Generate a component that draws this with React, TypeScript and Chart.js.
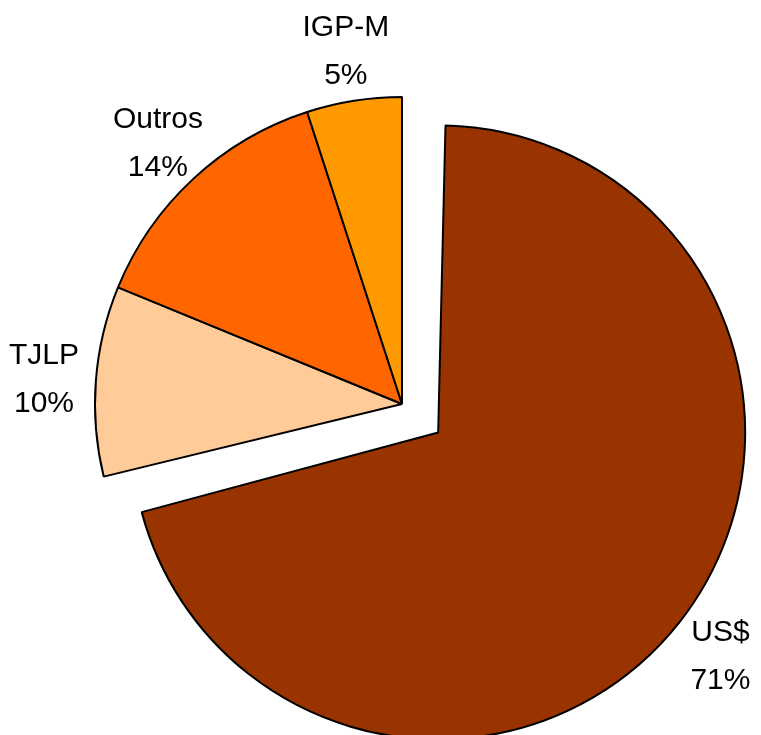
import React, { useEffect, useRef } from "react";
import { Chart, registerables } from "chart.js";

Chart.register(...registerables);

// ---- data ----
const categories = ["US$", "TJLP", "Outros", "IGP-M"];
const shares = [71.2, 10.0, 13.8, 5.0];
const percentLabels = ["71%", "10%", "14%", "5%"];
const sliceColors = ["#993300", "#FFCC99", "#FF6600", "#FF9900"];
// Chart.js translates an arc by offset/4
const sliceOffsets = [184, 0, 0, 0];

function radiusFix(arc: any) {
  // Chart.js enlarges an offset arc's radius by (offset/4) * (1 - sin(min(PI, circumference)))
  const off = (arc.options?.offset || 0) / 4;
  const circ = arc.circumference || 0;
  return off * (1 - Math.sin(Math.min(Math.PI, circ)));
}

const keepRadiusPlugin = {
  id: "keepRadius",
  beforeDatasetDraw(chart: any, args: any) {
    const meta = chart.getDatasetMeta(args.index);
    meta.data.forEach((arc: any) => {
      const fix = radiusFix(arc);
      if (fix && !arc.$fixed) {
        arc.outerRadius = arc.outerRadius - fix;
        arc.$fixed = true;
      }
    });
  },
};

const outerLabelPlugin = {
  id: "outerLabels",
  afterDatasetsDraw(chart: any) {
    const ctx = chart.ctx;
    const meta = chart.getDatasetMeta(0);
    ctx.save();
    ctx.font = '30px "Liberation Sans", Arial, sans-serif';
    ctx.fillStyle = "#000000";
    ctx.textAlign = "center";
    ctx.textBaseline = "alphabetic";
    meta.data.forEach((arc: any, i: number) => {
      const { x, y, startAngle, endAngle } = arc;
      const r = arc.outerRadius + radiusFix(arc);
      const mid = (startAngle + endAngle) / 2;
      const off = (arc.options.offset || 0) / 4;
      const cx = x + Math.cos(mid) * off;
      const cy = y + Math.sin(mid) * off;
      const d = r + 52;
      const ax = cx + Math.cos(mid) * d;
      const ay = cy + Math.sin(mid) * d;
      ctx.fillText(chart.data.labels[i], ax, ay - 13);
      ctx.fillText(percentLabels[i], ax, ay + 35);
    });
    ctx.restore();
  },
};

export default function App() {
  const canvasRef = useRef<HTMLCanvasElement | null>(null);

  useEffect(() => {
    if (!canvasRef.current) return;
    const chart = new Chart(canvasRef.current, {
      type: "pie",
      data: {
        labels: categories,
        datasets: [
          {
            data: shares,
            backgroundColor: sliceColors,
            borderColor: "#000000",
            borderWidth: 2,
            offset: sliceOffsets,
            hoverOffset: 0,
          } as any,
        ],
      },
      options: {
        responsive: false,
        animation: false,
        radius: 307,
        layout: { padding: { left: 43, right: 0, top: 73, bottom: 0 } },
        plugins: {
          legend: { display: false },
          tooltip: { enabled: false },
        },
        events: [],
      } as any,
      plugins: [keepRadiusPlugin, outerLabelPlugin],
    });
    return () => chart.destroy();
  }, []);

  return (
    <div
      style={{
        position: "fixed",
        left: 0,
        top: 0,
        width: 761,
        height: 735,
        background: "#ffffff",
      }}
    >
      <canvas ref={canvasRef} width={761} height={735} />
    </div>
  );
}
